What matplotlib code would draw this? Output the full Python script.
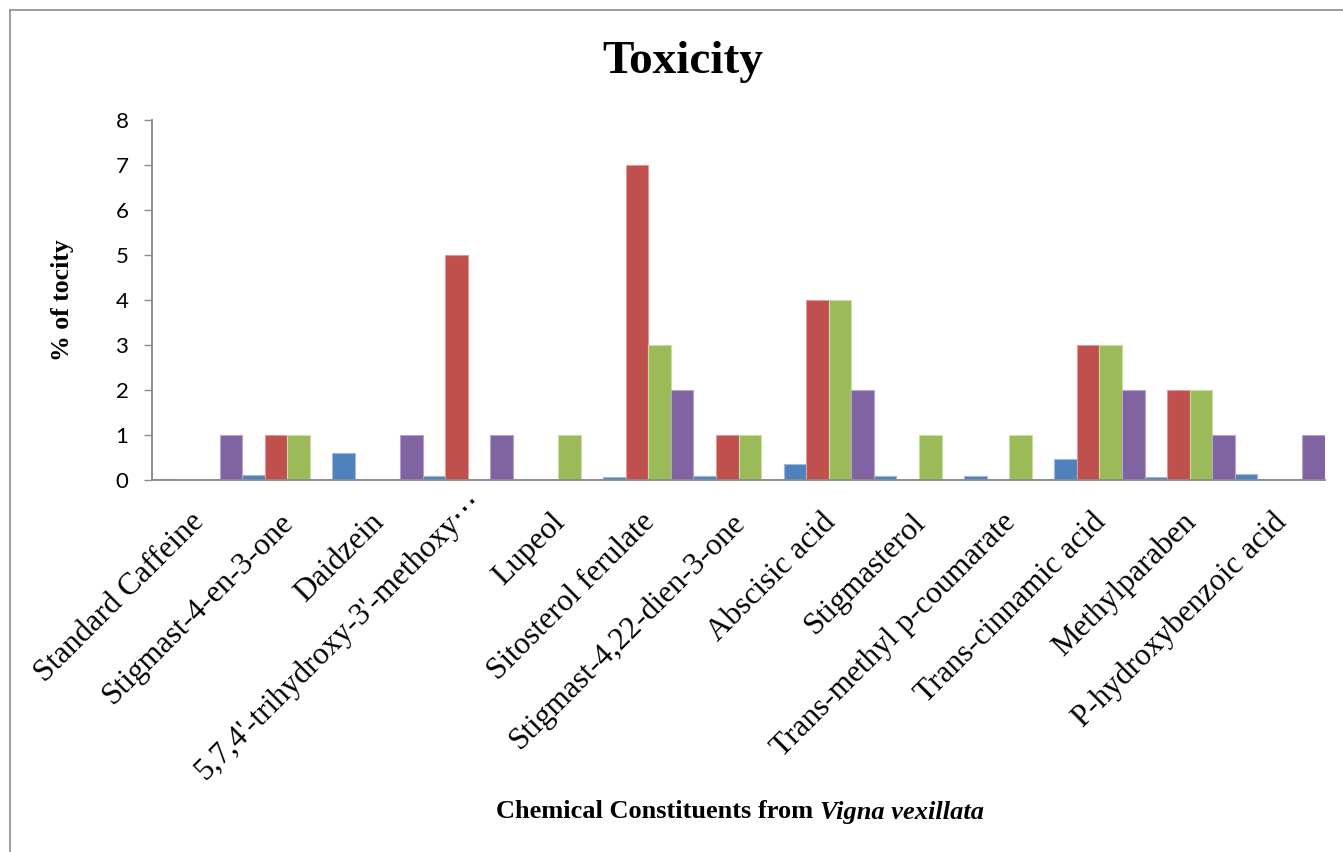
import matplotlib
matplotlib.use("Agg")
import matplotlib.pyplot as plt
import numpy as np
from matplotlib.lines import Line2D
from matplotlib.transforms import ScaledTranslation

categories = [
    "Standard Caffeine",
    "Stigmast-4-en-3-one",
    "Daidzein",
    "5,7,4'-trihydroxy-3'-methoxy\u22ef",
    "Lupeol",
    "Sitosterol ferulate",
    "Stigmast-4,22-dien-3-one",
    "Abscisic acid",
    "Stigmasterol",
    "Trans-methyl p-coumarate",
    "Trans-cinnamic acid",
    "Methylparaben",
    "P-hydroxybenzoic acid",
]

series_1 = [0.02, 0.12, 0.61, 0.09, 0.0, 0.07, 0.10, 0.35, 0.08, 0.08, 0.46, 0.07, 0.14]
series_2 = [0, 1, 0, 5, 0, 7, 1, 4, 0, 0, 3, 2, 0]
series_3 = [0, 1, 0, 0, 1, 3, 1, 4, 1, 1, 3, 2, 0]
series_4 = [1, 0, 1, 1, 0, 2, 0, 2, 0, 0, 2, 1, 1]

yticks = [0, 1, 2, 3, 4, 5, 6, 7, 8]

colors = ["#4F81BD", "#C0504D", "#9BBB59", "#8064A2"]
edges = ["#9DB9DE", "#DE9A98", "#C8DCA6", "#B3A2C9"]

W, H = 1343, 852
fig = plt.figure(figsize=(W / 100, H / 100), dpi=100)

# outer chart border
fig.add_artist(Line2D([10 / W, 10 / W], [0, 1 - 10 / H], transform=fig.transFigure,
                      color="#8C8C8C", lw=1.2))
fig.add_artist(Line2D([10 / W, 1], [1 - 10 / H, 1 - 10 / H], transform=fig.transFigure,
                      color="#8C8C8C", lw=1.2))

ax = fig.add_axes([152 / W, 1 - 480 / H, (1325 - 152) / W, (480 - 120) / H])

x = np.arange(len(categories))
bw = 0.25
all_series = [series_1, series_2, series_3, series_4]
for i, vals in enumerate(all_series):
    ax.bar(x + (i - 1.5) * bw, vals, width=bw, color=colors[i],
           edgecolor=edges[i], linewidth=0.8, zorder=2)

ax.set_xlim(-0.5, len(categories) - 0.5)
ax.set_ylim(0, 8)
ax.set_yticks(yticks)
ax.set_yticklabels([str(v) for v in yticks], fontfamily="Lato", fontsize=16)
ax.tick_params(axis="y", direction="out", length=6, width=1, color="#8C8C8C", pad=11)

ax.set_xticks(x)
ax.set_xticklabels(categories, rotation=45, ha="right", va="top",
                   rotation_mode="anchor", fontfamily=["Liberation Serif", "DejaVu Sans"],
                   fontsize=22.5)
ax.tick_params(axis="x", length=0, pad=22)
shift = ScaledTranslation(-0.08, 0.03, fig.dpi_scale_trans)
long_shift = ScaledTranslation(0.07, 0.20, fig.dpi_scale_trans)
for lbl in ax.get_xticklabels():
    t = lbl.get_transform() + shift
    if lbl.get_text().endswith("\u22ef"):
        t = t + long_shift
    lbl.set_transform(t)

for side in ["top", "right"]:
    ax.spines[side].set_visible(False)
for side in ["left", "bottom"]:
    ax.spines[side].set_color("#8C8C8C")
    ax.spines[side].set_linewidth(1.4)

fig.text(62 / W, 1 - 300 / H, "% of tocity", ha="center", va="center", rotation=90,
         fontfamily="Liberation Serif", fontweight="bold", fontsize=18.5)

fig.text(683 / W, 1 - 62 / H, "Toxicity", ha="center", va="center",
         fontfamily="Liberation Serif", fontweight="bold", fontsize=34)

fig.text(813 / W, 1 - 812 / H, "Chemical Constituents from", ha="right", va="center",
         fontfamily="Liberation Serif", fontweight="bold", fontsize=19)
fig.text(820 / W, 1 - 812 / H, "Vigna vexillata", ha="left", va="center",
         fontfamily="Liberation Serif", fontweight="bold", fontstyle="italic", fontsize=19)

fig.savefig("out.png", dpi=100)
